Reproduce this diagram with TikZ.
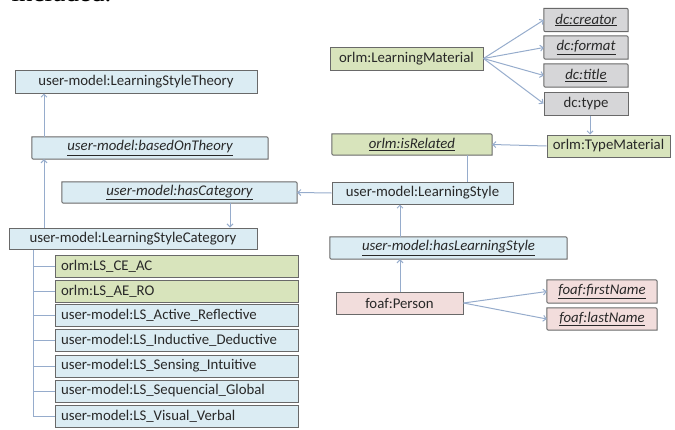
\documentclass[tikz,border=0pt]{standalone}
\usepackage{fontspec}
\setmainfont{Carlito}
\newfontfamily\paperserif{Liberation Serif}
\usetikzlibrary{arrows.meta,backgrounds}
\definecolor{lsblue}{RGB}{219,236,243}
\definecolor{lsgreen}{RGB}{216,228,188}
\definecolor{lsgrey}{RGB}{214,214,216}
\definecolor{lspink}{RGB}{242,221,220}
\definecolor{lsedge}{RGB}{105,105,105}
\definecolor{lslink}{RGB}{150,172,204}
\definecolor{lstext}{RGB}{40,40,40}
\tikzset{
  cls/.style={draw=lsedge, line width=1pt, inner sep=0pt, text=lstext, font=\fontsize{14.8}{17}\selectfont},
  prop/.style={inner sep=0pt, text=lstext, font=\fontsize{14.8}{17}\selectfont\itshape},
  sz/.style 2 args={minimum width=#1pt, minimum height=#2pt},
  row/.style={cls, minimum height=22pt, text width=231pt, align=left, inner xsep=6pt},
  link/.style={draw=lslink, line width=1pt},
  arr/.style={link, -{Straight Barb[length=3pt,width=6pt]}},
}
\begin{document}
\begin{tikzpicture}[x=1pt,y=-1pt]
\useasboundingbox (0,0) rectangle (675,429);
\node[font=\paperserif\fontsize{27}{30}\selectfont, anchor=base west](incl) at (8,1.5){included.};
% user-model side
\node[cls, fill=lsblue, sz={242}{23}](theory) at (136,81.5){user-model:LearningStyleTheory};
\node[prop, sz={236}{22}](based) at (150,148){\underline{user-model:basedOnTheory}};
\node[prop, sz={235}{21}](hascat) at (179.5,192.5){\underline{user-model:hasCategory}};
\node[cls, fill=lsblue, sz={248}{21}](cat) at (133,238.5){user-model:LearningStyleCategory};
\node[row, fill=lsgreen](r1) at (176.5,266){orlm:LS\_CE\_AC};
\node[row, fill=lsgreen](r2) at (176.5,291){orlm:LS\_AE\_RO};
\node[row, fill=lsblue](r3) at (176.5,315.5){user-model:LS\_Active\_Reflective};
\node[row, fill=lsblue](r4) at (176.5,340.5){user-model:LS\_Inductive\_Deductive};
\node[row, fill=lsblue](r5) at (176.5,366){user-model:LS\_Sensing\_Intuitive};
\node[row, fill=lsblue](r6) at (176.5,391){user-model:LS\_Sequencial\_Global};
\node[row, fill=lsblue](r7) at (176.5,416.5){user-model:LS\_Visual\_Verbal};
% material side
\node[cls, fill=lsgreen, sz={153}{23}](lm) at (406.5,58.5){orlm:LearningMaterial};
\node[prop, sz={84}{23}](creator) at (586,20){\underline{dc:creator}};
\node[prop, sz={84}{23}](format) at (586,47.5){\underline{dc:format}};
\node[prop, sz={84}{23}](title) at (586,75.5){\underline{dc:title}};
\node[cls, fill=lsgrey, sz={84}{23}](type) at (586,103.5){dc:type};
\node[cls, fill=lsgreen, sz={123}{22}](tmat) at (608.5,146){orlm:TypeMaterial};
\node[prop, sz={160}{21}](isrel) at (412,144.5){\underline{orlm:isRelated}};
\node[cls, fill=lsblue, sz={181}{22}](ls) at (422.5,193){user-model:LearningStyle};
\node[prop, sz={237}{22}](hasls) at (448.5,248){\underline{user-model:hasLearningStyle}};
\node[cls, fill=lspink, sz={127}{22}](person) at (399.5,303){foaf:Person};
\node[prop, sz={110}{23}](first) at (602,291.5){\underline{foaf:firstName}};
\node[prop, sz={110}{22}](last) at (602,319){\underline{foaf:lastName}};
% property boxes
\begin{scope}[on background layer]
\foreach \n/\c in {based/lsblue,hascat/lsblue,creator/lsgrey,format/lsgrey,title/lsgrey,isrel/lsgreen,hasls/lsblue,first/lspink,last/lspink}
  \filldraw[fill=\c, draw=lsedge, line width=1pt] ([yshift=4pt]\n.south west) -- (\n.north west) -- ([xshift=-4pt]\n.north east) .. controls (\n.north east) .. ([yshift=-4pt]\n.north east) -- (\n.south east) -- ([xshift=4pt]\n.south west) .. controls (\n.south west) .. ([yshift=4pt]\n.south west) -- cycle;
\end{scope}
\coordinate (up) at (44,0);
\coordinate (trunk) at (33,0);
\draw[arr] (based.north -| up) -- (theory.south -| up);
\draw[arr] (cat.north -| up) -- (based.south -| up);
\draw[arr] (hascat.south -| 230,0) -- (cat.north -| 230,0);
\draw[arr] (ls.west) -- (hascat.east);
\draw[link] (cat.south -| trunk) |- (r7.west);
\foreach \r in {r1,r2,r3,r4,r5,r6}
  \draw[link] (\r.west -| trunk) -- (\r.west);
\foreach \d in {creator,format,title,type}
  \draw[arr] (lm.east) -- (\d.west);
\draw[arr] (type.south -| 590,0) -- (tmat.north -| 590,0);
\draw[arr] (tmat.west) -- (isrel.east);
\draw[link] (isrel.south -| 467,0) -- (ls.north -| 467,0);
\draw[arr] (hasls.north -| 400,0) -- (ls.south -| 400,0);
\draw[arr] (person.north -| 400,0) -- (hasls.south -| 400,0);
\draw[arr] (person.east) -- (first.west);
\draw[arr] (person.east) -- (last.west);
\end{tikzpicture}
\end{document}
